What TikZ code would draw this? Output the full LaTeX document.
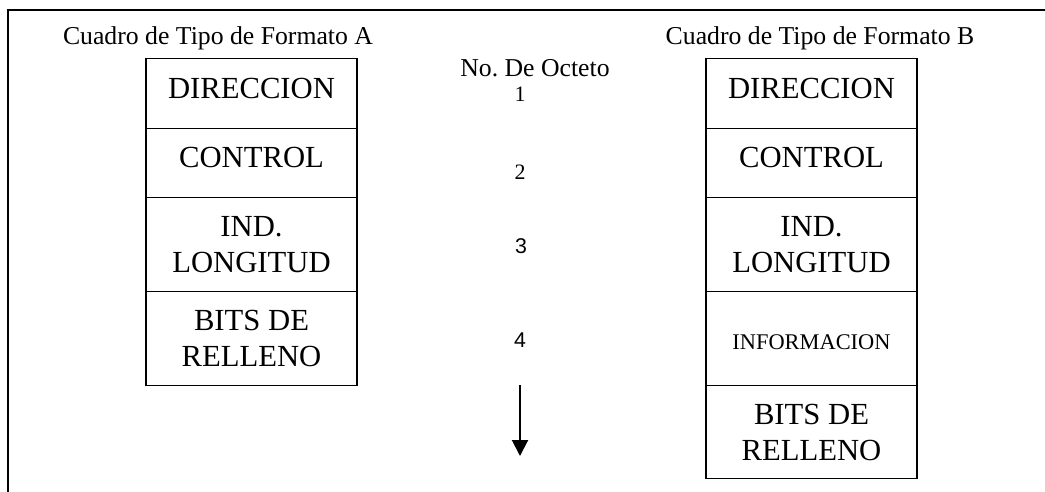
\documentclass[tikz,border=0pt]{standalone}
\usepackage{fontspec}
\setmainfont{Liberation Serif}
\newfontfamily\arialfont{Liberation Sans}
\usetikzlibrary{positioning,arrows.meta}

\tikzset{
  campo/.style={draw, line width=1pt, minimum width=158.25pt, inner sep=0pt, outer sep=0pt, align=center, font=\fontsize{23}{27}\selectfont},
  campocorto/.style={campo, minimum height=52pt, text depth=8pt},
  campoalto/.style={campo, minimum height=70.5pt},
  titulo/.style={anchor=base, font=\fontsize{19.3}{23}\selectfont},
  octeto/.style={anchor=base, font=\fontsize{16.5}{20}\selectfont}
}

\begin{document}
\begin{tikzpicture}[x=0.75pt,y=0.75pt,yscale=-1]
  \useasboundingbox (0,0) rectangle (1045,492);

  %Marco
  \draw[line width=1.5pt] (7.5,492) -- (7.5,10) -- (1045,10);

  %Cuadro A
  \node[titulo] (titA) at (218,45) {Cuadro de Tipo de Formato A};
  \node[campocorto] (dirA) at (251.5,93.5) {DIRECCION};
  \node[campocorto, below=0pt of dirA] (ctrlA) {CONTROL};
  \node[campoalto, below=0pt of ctrlA] (longA) {IND.\\LONGITUD};
  \node[campoalto, below=0pt of longA] (rellA) {BITS DE\\RELLENO};

  %Cuadro B
  \node[titulo] (titB) at (820,45) {Cuadro de Tipo de Formato B};
  \node[campocorto] (dirB) at (811.5,93.5) {DIRECCION};
  \node[campocorto, below=0pt of dirB] (ctrlB) {CONTROL};
  \node[campoalto, below=0pt of ctrlB] (longB) {IND.\\LONGITUD};
  \node[campoalto, below=0pt of longB, font=\fontsize{16.8}{20}\selectfont, text height=17pt, text depth=0pt] (infoB) {INFORMACION};
  \node[campoalto, minimum height=69.75pt, below=0pt of infoB] (rellB) {BITS DE\\RELLENO};

  %Octetos
  \node[titulo] (numOct) at (535,76) {No.\ De Octeto};
  \node[octeto] (oct1) at (520,102) {1};
  \node[octeto] (oct2) at (520,179) {2};
  \node[octeto, font=\arialfont\fontsize{16}{20}\selectfont] (oct3) at (521,253) {3};
  \node[octeto, font=\arialfont\fontsize{16}{20}\selectfont] (oct4) at (520,347) {4};

  %Flecha
  \coordinate (flechaIni) at (520,385);
  \coordinate (flechaFin) at (520,456);
  \draw[line width=1.5pt, -{Triangle[width=12pt,length=12pt]}] (flechaIni) -- (flechaFin);

\end{tikzpicture}
\end{document}
